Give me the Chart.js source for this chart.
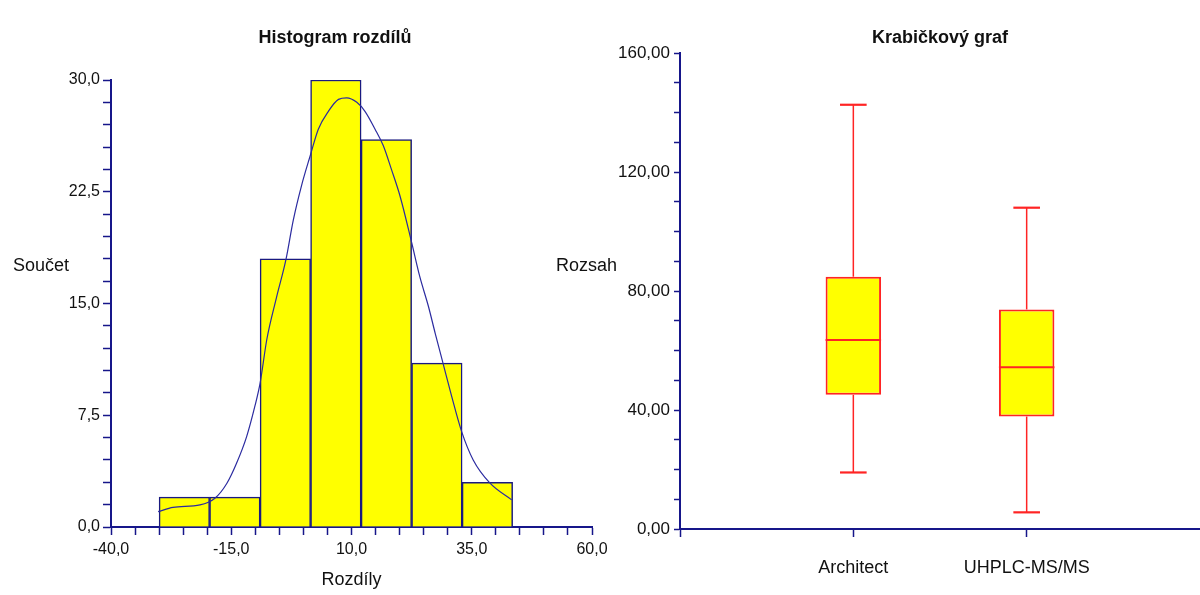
<!DOCTYPE html>
<html>
<head>
<meta charset="utf-8">
<script src="https://cdn.jsdelivr.net/npm/chart.js@4.4.0/dist/chart.umd.min.js"></script>
<style>
  html,body{margin:0;padding:0;background:#fff;width:1200px;height:595px;overflow:hidden;}
  #wrap{position:relative;width:1200px;height:595px;}
  canvas{position:absolute;top:0;}
  .ylab{position:absolute;font-family:'Liberation Sans',Arial,sans-serif;font-size:18px;color:#111;line-height:20px;}
</style>
</head>
<body>
<div id="wrap">
  <canvas id="hist" width="670" height="595" style="left:0"></canvas>
  <canvas id="box" width="600" height="595" style="left:600px"></canvas>
  <div class="ylab" style="left:13px;top:255px;">Součet</div>
  <div class="ylab" style="left:556px;top:255px;">Rozsah</div>
</div>
<script>
// ---------- Data ----------
const binEdges = [-30, -19.5, -9, 1.5, 12, 22.5, 33, 43.5];
const binCounts = [2, 2, 18, 30, 26, 11, 3];
const curveX = [-30.2,-27.1,-21.5,-18.4,-15.9,-13.9,-11.8,-10.1,-9.0,-7.6,-5.6,-3.6,-2.1,-0.4,1.4,3.1,5.2,7.3,9.0,11.1,12.8,14.9,16.6,18.3,20.1,22.5,24.2,26.0,27.4,29.1,30.8,32.9,35.3,38.8,43.3];
const curveY = [1.03,1.32,1.48,1.93,2.94,4.28,6.07,8.09,9.66,12.6,15.4,18.0,20.6,22.9,24.9,26.7,27.9,28.7,28.8,28.5,27.9,26.7,25.6,24.0,22.2,19.1,16.8,14.8,13.0,10.9,8.8,6.4,4.5,2.94,1.82];

const boxCategories = ['Architect', 'UHPLC-MS/MS'];
const boxMin = [19.0, 5.6];
const boxQ1 = [45.1, 37.8];
const boxMedian = [63.5, 54.4];
const boxQ3 = [84.8, 73.8];
const boxMax = [142.6, 108.0];

const histXTicks = [-40, -15, 10, 35, 60];
const histYTicks = [0, 7.5, 15, 22.5, 30];
const boxYTicks = [0, 40, 80, 120, 160];

// ---------- Styles ----------
const FONT = "'Liberation Sans',Arial,sans-serif";
const NAVY = '#16168a';
const TXT = '#111111';
Chart.defaults.font.family = FONT;
Chart.defaults.color = TXT;

const fmt = (v, d) => v.toFixed(d).replace('.', ',');
const isIn = (arr, v) => arr.some(t => Math.abs(t - v) < 1e-6);

// ---------- Histogram ----------
const histData = binCounts.map((c, i) => ({x: (binEdges[i] + binEdges[i+1]) / 2, y: c}));
const curveData = curveX.map((x, i) => ({x, y: curveY[i]}));

new Chart(document.getElementById('hist'), {
  type: 'bar',
  data: {
    datasets: [
      {type: 'line', data: curveData, borderColor: '#2b2ba0', borderWidth: 1.2, pointRadius: 0,
       cubicInterpolationMode: 'monotone', fill: false, order: 0},
      {type: 'bar', data: histData, backgroundColor: '#ffff00', borderColor: '#1a1a80', borderWidth: 1.5,
       barThickness: 'flex', barPercentage: 1, categoryPercentage: 1, order: 1}
    ]
  },
  options: {
    responsive: false, devicePixelRatio: 1, animation: false,
    layout: {padding: 0},
    plugins: {
      legend: {display: false}, tooltip: {enabled: false},
      title: {display: true, text: 'Histogram rozdílů', color: TXT,
              font: {size: 18, weight: 'bold', family: FONT}, padding: {top: 27, bottom: 31.4}}
    },
    scales: {
      x: {
        type: 'linear', min: -40, max: 60, offset: false,
        afterFit: s => { s.height = 68; },
        ticks: {stepSize: 5, autoSkip: false, maxRotation: 0, padding: 5, color: TXT,
                font: {size: 16}, callback: v => isIn(histXTicks, v) ? fmt(v, 1) : ''},
        grid: {offset: false, drawOnChartArea: false, drawTicks: true, tickLength: 8, tickColor: NAVY, tickWidth: 1.5},
        border: {display: true, color: NAVY, width: 2},
        title: {display: true, text: 'Rozdíly', color: TXT, font: {size: 18}, padding: {top: 0, bottom: 4}}
      },
      y: {
        type: 'linear', min: 0, max: 30,
        afterFit: s => { s.width = 111; },
        ticks: {stepSize: 1.5, autoSkip: false, padding: 3, color: TXT, font: {size: 16},
                callback: v => isIn(histYTicks, v) ? fmt(v, 1) : ''},
        grid: {drawOnChartArea: false, drawTicks: true, tickLength: 8, tickColor: NAVY, tickWidth: 1.5},
        border: {display: true, color: NAVY, width: 2}
      },
      spacer: {
        type: 'linear', position: 'right', display: true,
        afterFit: s => { s.width = 78; },
        ticks: {display: false}, grid: {display: false}, border: {display: false}
      }
    }
  }
});

// ---------- Box plot ----------
const whiskerPlugin = {
  id: 'whiskers',
  afterDatasetsDraw(chart) {
    const {ctx, scales: {x, y}} = chart;
    const meta = chart.getDatasetMeta(0);
    ctx.save();
    ctx.strokeStyle = '#ff2424';
    boxCategories.forEach((c, i) => {
      const bar = meta.data[i];
      const cx = x.getPixelForValue(i + 1);
      const w = bar.width;
      const capHalf = w * 0.24;
      const seg = (x1, y1, x2, y2, lw) => {
        ctx.lineWidth = lw; ctx.beginPath(); ctx.moveTo(x1, y1); ctx.lineTo(x2, y2); ctx.stroke();
      };
      seg(cx, y.getPixelForValue(boxQ3[i]), cx, y.getPixelForValue(boxMax[i]), 1.5);
      seg(cx, y.getPixelForValue(boxQ1[i]), cx, y.getPixelForValue(boxMin[i]), 1.5);
      seg(cx - capHalf, y.getPixelForValue(boxMax[i]), cx + capHalf, y.getPixelForValue(boxMax[i]), 2.2);
      seg(cx - capHalf, y.getPixelForValue(boxMin[i]), cx + capHalf, y.getPixelForValue(boxMin[i]), 2.2);
      seg(cx - w / 2, y.getPixelForValue(boxMedian[i]), cx + w / 2, y.getPixelForValue(boxMedian[i]), 2);
    });
    ctx.restore();
  }
};

new Chart(document.getElementById('box'), {
  type: 'bar',
  data: {
    datasets: [{
      data: boxCategories.map((c, i) => ({x: i + 1, y: [boxQ1[i], boxQ3[i]]})),
      backgroundColor: '#ffff00', borderColor: '#ff2424', borderWidth: 2, borderSkipped: false,
      barPercentage: 0.32, categoryPercentage: 1
    }]
  },
  plugins: [whiskerPlugin],
  options: {
    responsive: false, devicePixelRatio: 1, animation: false,
    layout: {padding: 0},
    plugins: {
      legend: {display: false}, tooltip: {enabled: false},
      title: {display: true, text: 'Krabičkový graf', color: TXT, fullSize: false,
              font: {size: 18, weight: 'bold', family: FONT}, padding: {top: 27, bottom: 4.4}}
    },
    scales: {
      x: {
        type: 'linear', min: 0, max: 3, offset: false,
        afterFit: s => { s.height = 66; },
        afterBuildTicks: s => { s.ticks = [0, 1, 2].map(v => ({value: v})); },
        ticks: {autoSkip: false, maxRotation: 0, padding: 20, color: TXT, font: {size: 18},
                callback: v => (v >= 1 && v <= boxCategories.length) ? boxCategories[v - 1] : ''},
        grid: {offset: false, drawOnChartArea: false, drawTicks: true, tickLength: 8, tickColor: NAVY, tickWidth: 1.5},
        border: {display: true, color: NAVY, width: 2}
      },
      y: {
        type: 'linear', min: 0, max: 160,
        afterFit: s => { s.width = 80; },
        ticks: {stepSize: 10, autoSkip: false, padding: 4, color: TXT, font: {size: 17},
                callback: v => isIn(boxYTicks, v) ? fmt(v, 2) : ''},
        grid: {drawOnChartArea: false, drawTicks: true, tickLength: 6, tickColor: NAVY, tickWidth: 1.5},
        border: {display: true, color: NAVY, width: 2}
      }
    }
  }
});
</script>
</body>
</html>
